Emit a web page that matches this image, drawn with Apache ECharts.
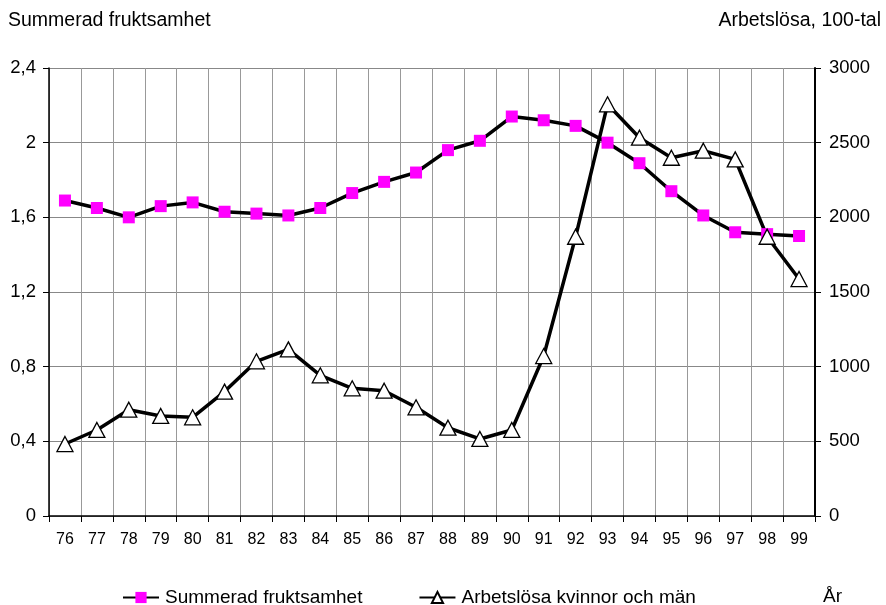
<!DOCTYPE html>
<html>
<head>
<meta charset="utf-8">
<script src="https://cdn.jsdelivr.net/npm/echarts@6/dist/echarts.min.js"></script>
<style>
html,body{margin:0;padding:0;background:#fff;}
#chart{width:886px;height:605px;}
</style>
</head>
<body>
<div id="chart"></div>
<script>
const years = ['76','77','78','79','80','81','82','83','84','85','86','87','88','89','90','91','92','93','94','95','96','97','98','99'];
const fertility = [1.69,1.65,1.60,1.66,1.68,1.63,1.62,1.61,1.65,1.73,1.79,1.84,1.96,2.01,2.14,2.12,2.09,2.00,1.89,1.74,1.61,1.52,1.51,1.50];
const unemployed = [482,576,712,670,661,833,1036,1116,942,855,839,728,591,516,576,1071,1870,2757,2533,2399,2446,2388,1870,1587];
const leftTicks = {min:0, max:2.4, interval:0.4};
const rightTicks = {min:0, max:3000, interval:500};
const seriesNames = ['Summerad fruktsamhet','Arbetslösa kvinnor och män'];
const leftTitle = 'Summerad fruktsamhet';
const rightTitle = 'Arbetslösa, 100-tal';
const xTitle = 'År';

const FONT = '"Liberation Sans", Arial, sans-serif';
const chart = echarts.init(document.getElementById('chart'), null, {renderer:'canvas'});
chart.setOption({
  animation:false,
  backgroundColor:'#fff',
  textStyle:{fontFamily:FONT},
  grid:{left:49, right:71, top:68, bottom:89, containLabel:false},
  legend:{
    left:117, top:584, padding:[4,5,4,5], itemWidth:36, itemHeight:14, itemGap:56,
    textStyle:{fontSize:19, color:'#000', fontFamily:FONT, padding:[0,0,0,1]},
    data:seriesNames
  },
  graphic:[
    {type:'text', left:8, top:11, style:{text:leftTitle, font:'19.5px '+FONT, fill:'#000'}},
    {type:'text', right:5, top:11, style:{text:rightTitle, font:'19.5px '+FONT, fill:'#000'}},
    {type:'text', left:823, top:587, style:{text:xTitle, font:'19px '+FONT, fill:'#000'}}
  ],
  xAxis:{
    type:'category', data:years, boundaryGap:true,
    axisLine:{lineStyle:{color:'#000', width:1.5}},
    axisTick:{show:true, length:6, lineStyle:{color:'#000'}},
    splitLine:{show:true, lineStyle:{color:'#999', width:1}},
    axisLabel:{fontSize:16, color:'#000', margin:16, fontFamily:FONT}
  },
  yAxis:[
    {type:'value', min:leftTicks.min, max:leftTicks.max, interval:leftTicks.interval,
     axisLine:{show:true, lineStyle:{color:'#000', width:1.5}},
     axisTick:{show:true, length:6, lineStyle:{color:'#000'}},
     splitLine:{show:true, lineStyle:{color:'#888', width:1}},
     axisLabel:{fontSize:18.5, color:'#000', margin:13, fontFamily:FONT,
       formatter:v=>String(Math.round(v*10)/10).replace('.',',')}},
    {type:'value', position:'right', min:rightTicks.min, max:rightTicks.max, interval:rightTicks.interval,
     axisLine:{show:true, lineStyle:{color:'#000', width:2}},
     axisTick:{show:true, length:6, lineStyle:{color:'#000'}},
     splitLine:{show:false},
     axisLabel:{fontSize:18.5, color:'#000', margin:14, fontFamily:FONT,
       formatter:v=>String(v)}}
  ],
  series:[
    {name:seriesNames[0], type:'line', yAxisIndex:0, data:fertility,
     symbol:'rect', symbolSize:12, showAllSymbol:true,
     lineStyle:{color:'#000', width:3.5},
     itemStyle:{color:'#ff00ff', borderWidth:0}},
    {name:seriesNames[1], type:'line', yAxisIndex:1, data:unemployed,
     symbol:'triangle', symbolSize:[16,15], showAllSymbol:true,
     lineStyle:{color:'#000', width:3.5},
     itemStyle:{color:'#fff', borderColor:'#000', borderWidth:1.3}}
  ]
});
</script>
</body>
</html>
